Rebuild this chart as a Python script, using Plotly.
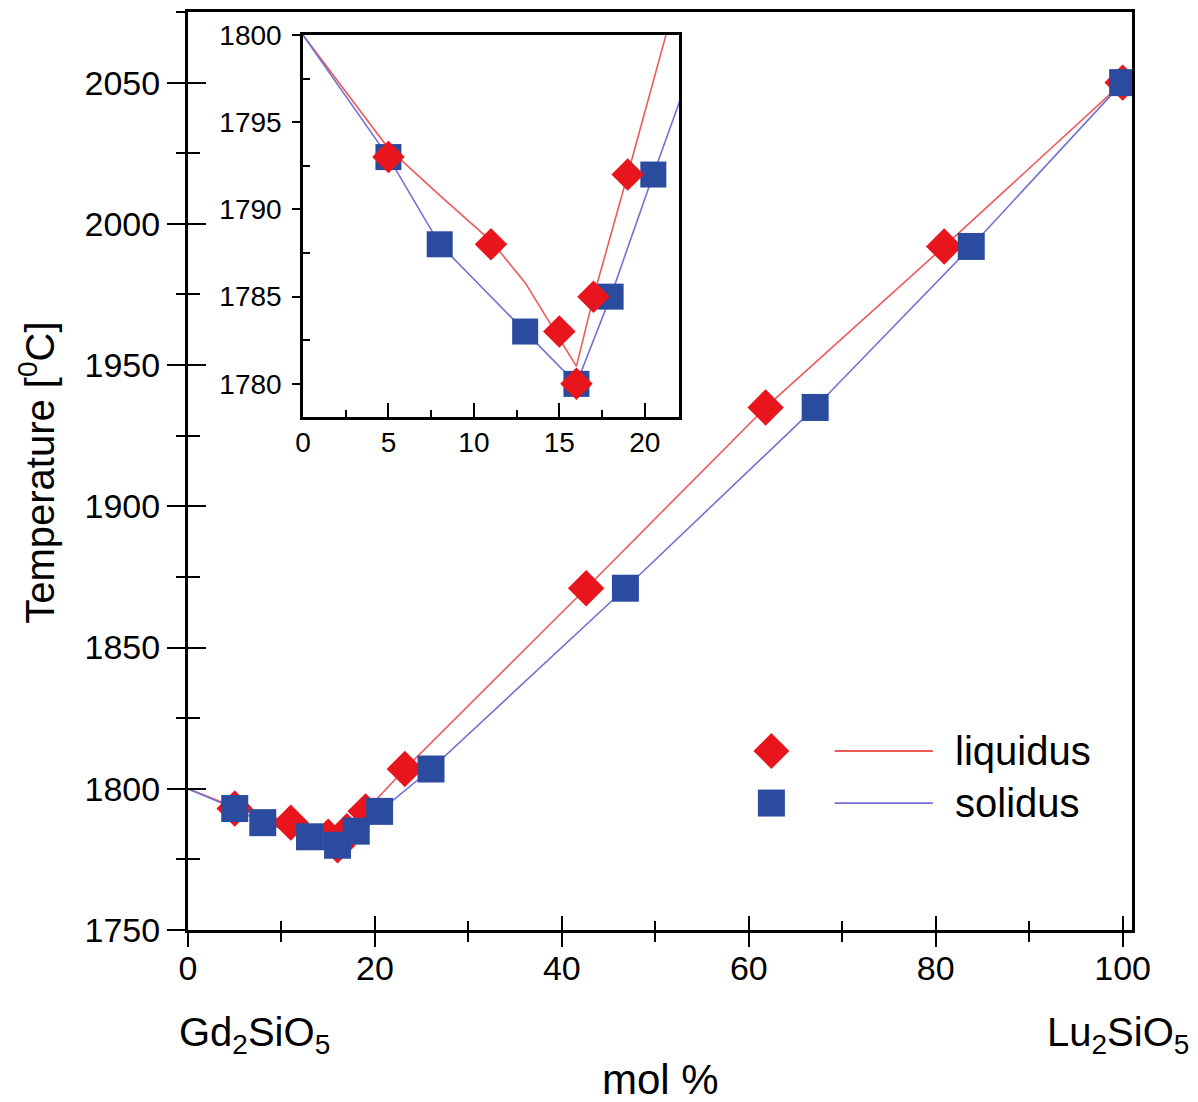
import plotly.graph_objects as go

# ---- data ----
liq_x = [5, 11, 15, 16, 17, 19, 23.2, 42.6, 61.8, 80.9, 100]
liq_T = [1793, 1788, 1783, 1780, 1785, 1792, 1807, 1871, 1935, 1992, 2050]
sol_x = [5, 8, 13, 16, 18, 20.5, 26.0, 46.8, 67.1, 83.8, 100]
sol_T = [1793, 1788, 1783, 1780, 1785, 1792, 1807, 1871, 1935, 1992, 2050]

liq_line_x = [0, 5, 8, 11, 13, 16, 17, 19, 23.2, 42.6, 61.8, 80.9, 100]
liq_line_T = [1800, 1793.5, 1790.8, 1788.2, 1785.8, 1781, 1785, 1792, 1807, 1871, 1935, 1992, 2050]
sol_line_x = [0, 5, 8, 13, 16, 18, 20.5, 26.0, 46.8, 67.1, 83.8, 100]
sol_line_T = [1800, 1793, 1788, 1783, 1780, 1785, 1792, 1807, 1871, 1935, 1992, 2050]

main_xticks = [0, 20, 40, 60, 80, 100]
main_yticks = [1750, 1800, 1850, 1900, 1950, 2000, 2050]
inset_xticks = [0, 5, 10, 15, 20]
inset_yticks = [1780, 1785, 1790, 1795, 1800]
inset_yminor = [1782.5, 1787.5, 1792.5, 1797.5]

RED = "#E8161C"
BLUE = "#2A4B9E"
RED_LINE = "#EE5A5A"
BLUE_LINE = "#7272D2"
FONT = "Arial, Liberation Sans, sans-serif"

fig = go.Figure()

# main plot
fig.add_trace(go.Scatter(x=liq_line_x, y=liq_line_T, mode="lines",
                         line=dict(color=RED_LINE, width=1.6), xaxis="x", yaxis="y"))
fig.add_trace(go.Scatter(x=sol_line_x, y=sol_line_T, mode="lines",
                         line=dict(color=BLUE_LINE, width=1.6), xaxis="x", yaxis="y"))
fig.add_trace(go.Scatter(x=liq_x, y=liq_T, mode="markers",
                         marker=dict(symbol="diamond", size=28, color=RED, line=dict(width=0)),
                         xaxis="x", yaxis="y"))
fig.add_trace(go.Scatter(x=sol_x, y=sol_T, mode="markers",
                         marker=dict(symbol="square", size=27, color=BLUE, line=dict(width=0)),
                         xaxis="x", yaxis="y"))

# inset
fig.add_trace(go.Scatter(x=liq_line_x, y=liq_line_T, mode="lines",
                         line=dict(color=RED_LINE, width=1.6), xaxis="x2", yaxis="y2"))
fig.add_trace(go.Scatter(x=sol_line_x, y=sol_line_T, mode="lines",
                         line=dict(color=BLUE_LINE, width=1.6), xaxis="x2", yaxis="y2"))
fig.add_trace(go.Scatter(x=sol_x, y=sol_T, mode="markers",
                         marker=dict(symbol="square", size=26, color=BLUE, line=dict(width=0)),
                         xaxis="x2", yaxis="y2"))
fig.add_trace(go.Scatter(x=liq_x, y=liq_T, mode="markers",
                         marker=dict(symbol="diamond", size=25, color=RED, line=dict(width=0)),
                         xaxis="x2", yaxis="y2"))

# empty helper traces so the overlay tick axes are rendered
fig.add_trace(go.Scatter(x=[], y=[], xaxis="x3", yaxis="y3", hoverinfo="skip"))
fig.add_trace(go.Scatter(x=[], y=[], xaxis="x2", yaxis="y4", hoverinfo="skip"))

main_xrange = [0, 101]
main_yrange = [1750, 2075]
inset_xrange = [0, 22]
inset_yrange = [1778.1, 1800]

axis_common = dict(showgrid=False, zeroline=False, color="black", automargin=False,
                   tickfont=dict(family=FONT, size=34, color="black"))
hidden = dict(showticklabels=False, showline=False, showgrid=False, zeroline=False, automargin=False)

fig.update_layout(
    template="none",
    width=1198, height=1102,
    margin=dict(l=188, r=66, t=12, b=172, pad=0, autoexpand=False),
    paper_bgcolor="white", plot_bgcolor="white",
    showlegend=False,
    font=dict(family=FONT, color="black"),
    xaxis=dict(domain=[0, 1], range=main_xrange, tickvals=main_xticks,
               ticks="outside", ticklen=14, tickwidth=2, tickcolor="black",
               minor=dict(ticks="outside", ticklen=9, tickwidth=2, dtick=10, tick0=0, tickcolor="black"),
               showline=True, linewidth=3, linecolor="black", mirror=True,
               ticklabelstandoff=-8, anchor="y", **axis_common),
    yaxis=dict(domain=[0, 1], range=main_yrange, tickvals=main_yticks,
               ticks="outside", ticklen=18, tickwidth=2, tickcolor="black",
               minor=dict(ticks="outside", ticklen=9, tickwidth=2, dtick=25, tick0=1750, tickcolor="black"),
               showline=True, linewidth=3, linecolor="black", mirror=True,
               ticklabelstandoff=0, anchor="x", **axis_common),
    xaxis3=dict(overlaying="x", anchor="y", side="bottom", range=main_xrange, tickvals=main_xticks,
                ticks="inside", ticklen=14, tickwidth=2, tickcolor="black",
                minor=dict(ticks="inside", ticklen=9, tickwidth=2, dtick=10, tick0=0, tickcolor="black"),
                **hidden),
    yaxis3=dict(overlaying="y", anchor="x", side="left", range=main_yrange, tickvals=main_yticks,
                ticks="inside", ticklen=18, tickwidth=2, tickcolor="black",
                minor=dict(ticks="inside", ticklen=12, tickwidth=2, dtick=25, tick0=1750, tickcolor="black"),
                **hidden),
    xaxis2=dict(domain=[0.1218, 0.5201], range=inset_xrange, tickvals=inset_xticks, anchor="y2",
                ticks="inside", ticklen=14, tickwidth=2, tickcolor="black",
                minor=dict(ticks="inside", ticklen=7, tickwidth=2, dtick=2.5, tick0=0, tickcolor="black"),
                showline=True, linewidth=2.5, linecolor="black", mirror=True,
                showgrid=False, zeroline=False, automargin=False,
                tickfont=dict(family=FONT, size=28, color="black"), ticklabelstandoff=-1),
    yaxis2=dict(domain=[0.5588, 0.975], range=inset_yrange, tickvals=inset_yticks, anchor="x2",
                ticks="outside", ticklen=8, tickwidth=2, tickcolor="black",
                showline=True, linewidth=2.5, linecolor="black", mirror=True,
                showgrid=False, zeroline=False, automargin=False,
                tickfont=dict(family=FONT, size=28, color="black"), ticklabelstandoff=5),
    yaxis4=dict(overlaying="y2", anchor="x2", side="left", range=inset_yrange, tickvals=inset_yminor,
                ticks="inside", ticklen=7, tickwidth=2, tickcolor="black", **hidden),
)

# text labels
anns = [
    dict(text="Temperature [<sup>0</sup>C]", x=-0.160, y=0.498, textangle=-90,
         xanchor="center", yanchor="middle", font=dict(size=40)),
    dict(text="Gd<sub>2</sub>SiO<sub>5</sub>", x=-0.0117, y=-0.114,
         xanchor="left", yanchor="middle", font=dict(size=40)),
    dict(text="Lu<sub>2</sub>SiO<sub>5</sub>", x=1.063, y=-0.114,
         xanchor="right", yanchor="middle", font=dict(size=40)),
    dict(text="mol %", x=0.5005, y=-0.163, xanchor="center", yanchor="middle", font=dict(size=42)),
    dict(text="liquidus", x=0.810, y=0.195, xanchor="left", yanchor="middle", font=dict(size=40)),
    dict(text="solidus", x=0.810, y=0.1383, xanchor="left", yanchor="middle", font=dict(size=40)),
]
for a in anns:
    a.update(xref="paper", yref="paper", showarrow=False)
    a["font"].update(family=FONT, color="black")
    fig.add_annotation(**a)

# legend glyphs (drawn in paper space)
fig.add_shape(type="path", xref="paper", yref="paper", xsizemode="pixel", ysizemode="pixel",
              xanchor=0.618, yanchor=0.195, path="M -18,0 L 0,18 L 18,0 L 0,-18 Z",
              fillcolor=RED, line=dict(width=0))
fig.add_shape(type="rect", xref="paper", yref="paper", xsizemode="pixel", ysizemode="pixel",
              xanchor=0.618, yanchor=0.1383, x0=-13.5, x1=13.5, y0=-13.5, y1=13.5,
              fillcolor=BLUE, line=dict(width=0))
fig.add_shape(type="line", xref="paper", yref="paper", x0=0.685, x1=0.789, y0=0.195, y1=0.195,
              line=dict(color=RED_LINE, width=1.8))
fig.add_shape(type="line", xref="paper", yref="paper", x0=0.685, x1=0.789, y0=0.1383, y1=0.1383,
              line=dict(color=BLUE_LINE, width=1.8))

fig.write_html("out.html", config={"displayModeBar": False},
               post_script="document.body.style.margin='0';document.body.style.overflow='hidden';")
